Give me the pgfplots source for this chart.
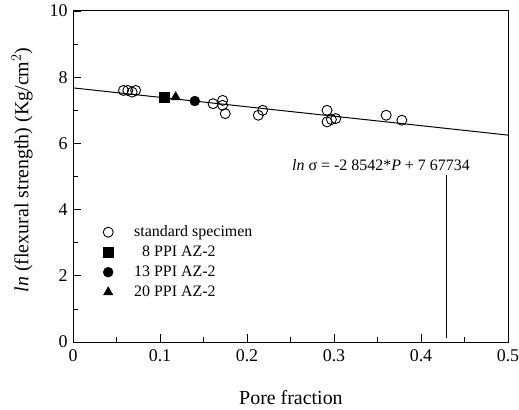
\documentclass[border=0pt]{standalone}
\usepackage{pgfplots}
\pgfplotsset{compat=1.18}
\usepackage{fontspec}
\setmainfont{Liberation Serif}
\begin{document}
\begin{tikzpicture}[x=1bp,y=1bp]
\begin{axis}[
  scale only axis,
  width=435bp, height=331bp,
  xmin=0, xmax=0.5, ymin=0, ymax=10,
  xtick={0,0.1,0.2,0.3,0.4,0.5}, ytick={0,2,4,6,8,10},
  xticklabels={0,0.1,0.2,0.3,0.4,0.5},
  minor x tick num=1, minor y tick num=1,
  tick pos=left, tick align=inside,
  major tick length=8bp, minor tick length=5bp,
  every tick/.style={black, line width=0.8pt},
  axis line style={line width=1pt},
  /pgf/number format/assume math mode=true,
  ticklabel style={font=\fontsize{18}{20}\selectfont},
  xticklabel style={yshift=-4bp},
  yticklabel style={xshift=-2bp},
  xlabel={Pore fraction},
  ylabel={\textit{ln} (flexural strength) (Kg/cm$^{2}$)},
  xlabel style={font=\fontsize{20}{22}\selectfont, at={(axis description cs:0.501,-0.169)}, anchor=center},
  ylabel style={font=\fontsize{20}{22}\selectfont, at={(axis description cs:-0.117,0.52)}, anchor=center},
  legend style={draw=none, fill=none, inner sep=0pt, at={(axis cs:0.0345,3.625)}, anchor=north west,
    font=\fontsize{16}{18}\selectfont, row sep=0pt, column sep=19bp,
    nodes={text height=12bp, text depth=4bp, inner sep=2bp}},
  legend cell align=left,
  legend image code/.code={\draw[#1] plot coordinates {(0bp,0bp)};},
]
\addplot[only marks, mark=o, mark size=5bp, black, line width=0.9pt] coordinates {
(0.058,7.6) (0.063,7.6) (0.068,7.55) (0.072,7.6)
(0.161,7.2) (0.172,7.3) (0.172,7.15) (0.175,6.9)
(0.213,6.85) (0.218,7.0)
(0.292,7.0) (0.292,6.65) (0.297,6.72) (0.302,6.75)
(0.36,6.85) (0.378,6.7)
};
\addlegendentry{standard specimen}
\addplot[only marks, mark=square*, mark size=5bp, black] coordinates {(0.105,7.4)};
\addlegendentry{\ \ 8 PPI AZ-2}
\addplot[only marks, mark=*, mark size=5bp, black] coordinates {(0.14,7.28)};
\addlegendentry{13 PPI AZ-2}
\addplot[only marks, mark=triangle*, mark size=5.5bp, black] coordinates {(0.118,7.4)};
\addlegendentry{20 PPI AZ-2}
\addplot[forget plot, black, line width=1pt] coordinates {(0,7.67734) (0.5,6.25024)};
\node[font=\fontsize{16}{18}\selectfont] at (axis cs:0.354,5.35) {\textit{ln} σ = -2 8542*\textit{P} + 7 67734};
\draw[black, line width=0.6pt] (axis cs:0.429,5.05) -- (axis cs:0.429,0.12);
\end{axis}
\pgfresetboundingbox
\path[use as bounding box] (-73bp,-68bp) rectangle (446bp,342bp);
\end{tikzpicture}
\end{document}
